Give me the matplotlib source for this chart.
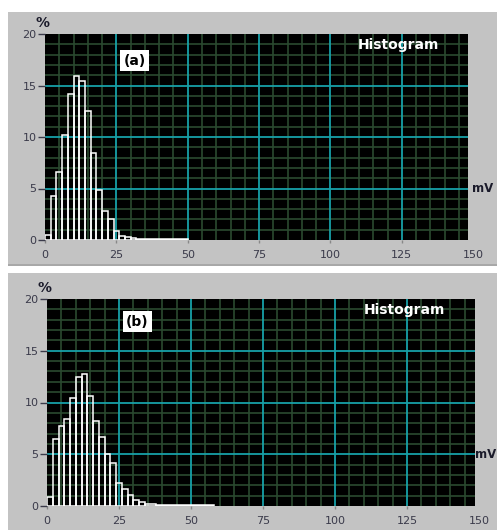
import matplotlib.pyplot as plt
from matplotlib.patches import Rectangle
from matplotlib.transforms import blended_transform_factory
import numpy as np

# bin edges (mV) and bin heights (%) for the two histograms
edges_a = [0, 2, 4, 6, 8, 10, 12, 14, 16, 18, 20, 22, 24, 26, 28, 30, 32, 50]
pct_a = [0.5, 4.25, 6.6, 10.2, 14.2, 15.95, 15.4, 12.55, 8.45, 4.9,
         2.8, 2.05, 0.9, 0.4, 0.25, 0.15, 0.05]

edges_b = [0, 2, 4, 6, 8, 10, 12, 14, 16, 18, 20, 22, 24, 26, 28, 30, 32, 34, 38, 58]
pct_b = [0.9, 6.5, 7.7, 8.45, 10.4, 12.5, 12.8, 10.6, 8.2, 6.7,
         5.05, 4.15, 2.25, 1.6, 1.1, 0.6, 0.4, 0.15, 0.05]

labels = ['(a)', '(b)']
xticks = [0, 25, 50, 75, 100, 125, 150]
yticks = [0, 5, 10, 15, 20]

W, H = 497, 530
fig = plt.figure(figsize=(W / 100, H / 100), dpi=100, facecolor='white')

panel_gray = '#c3c3c3'
# gray panels behind each chart
fig.patches.append(Rectangle((8 / W, 1 - 264 / H), 1, 252 / H, transform=fig.transFigure,
                             facecolor=panel_gray, edgecolor='none', zorder=-2))
fig.patches.append(Rectangle((8 / W, 1 - 266 / H), 1, 2 / H, transform=fig.transFigure,
                             facecolor='#a8a8a8', edgecolor='none', zorder=-2))
fig.patches.append(Rectangle((8 / W, 0), 1, 1 - 273 / H, transform=fig.transFigure,
                             facecolor=panel_gray, edgecolor='none', zorder=-2))

# axes boxes in pixels: left, top, right, bottom
boxes = [(45, 34, 468, 240), (47, 299, 475, 506)]
data = [(edges_a, pct_a), (edges_b, pct_b)]
xmax_list = [148.2, 148.6]
label_y = [17.4, 17.8]
mv_right = [493, 496]

tick_col = '#3a3a4a'
for (l, t, r, b), (edges, pct), lab, xmax, ly, mvr in zip(boxes, data, labels, xmax_list,
                                                            label_y, mv_right):
    ax = fig.add_axes([l / W, 1 - b / H, (r - l) / W, (b - t) / H])
    ax.set_facecolor('black')
    ax.set_xlim(0, xmax)
    ax.set_ylim(0, 20)

    # minor green grid
    for xv in np.arange(5, 150, 5):
        if xv % 25:
            ax.axvline(xv, color='#2b4a30', lw=1.2, zorder=0)
    for yv in np.arange(1, 20, 1):
        if yv % 5:
            ax.axhline(yv, color='#2b4a30', lw=1.2, zorder=0)
    # major teal grid
    for xv in xticks[1:-1]:
        ax.axvline(xv, color='#17a0a8', lw=1.3, zorder=1)
    for yv in yticks[1:-1]:
        ax.axhline(yv, color='#17a0a8', lw=1.3, zorder=1)

    widths = np.diff(edges)
    ax.bar(edges[:-1], pct, width=widths, align='edge', facecolor='none',
           edgecolor='white', linewidth=1.1, zorder=3)

    ax.set_xticks(xticks[:-1])
    ax.set_yticks(yticks)
    ax.tick_params(axis='y', length=5, width=1, color=tick_col, labelsize=8,
                   labelcolor=tick_col, pad=1)
    ax.tick_params(axis='x', length=2, width=1, color='#888888', labelsize=8,
                   labelcolor=tick_col, pad=5)
    # last tick sits just past the plot edge
    ax.annotate('150', xy=(xticks[-1], 0), xytext=(0, -7), textcoords='offset points',
                ha='center', va='top', fontsize=8, color=tick_col, annotation_clip=False)
    for s in ax.spines.values():
        s.set_visible(False)

    ax.text(-1, 20.4, '%', fontsize=10, fontweight='bold', color='#1a1a2a',
            ha='center', va='bottom', clip_on=False)
    mv_tr = blended_transform_factory(fig.transFigure, ax.transData)
    ax.text(mvr / W, 5, 'mV', fontsize=8.5, fontweight='bold', color='#1a1a2a',
            ha='right', va='center', clip_on=False, transform=mv_tr)
    ax.text(31.4, ly, lab, fontsize=10, fontweight='bold', color='black',
            ha='center', va='center', zorder=5,
            bbox=dict(boxstyle='square,pad=0.25', facecolor='white', edgecolor='none'))
    ax.text(124, 18.9, 'Histogram', fontsize=10, fontweight='bold', color='white',
            ha='center', va='center', zorder=5)

fig.savefig('out.png', dpi=100, facecolor=fig.get_facecolor())
